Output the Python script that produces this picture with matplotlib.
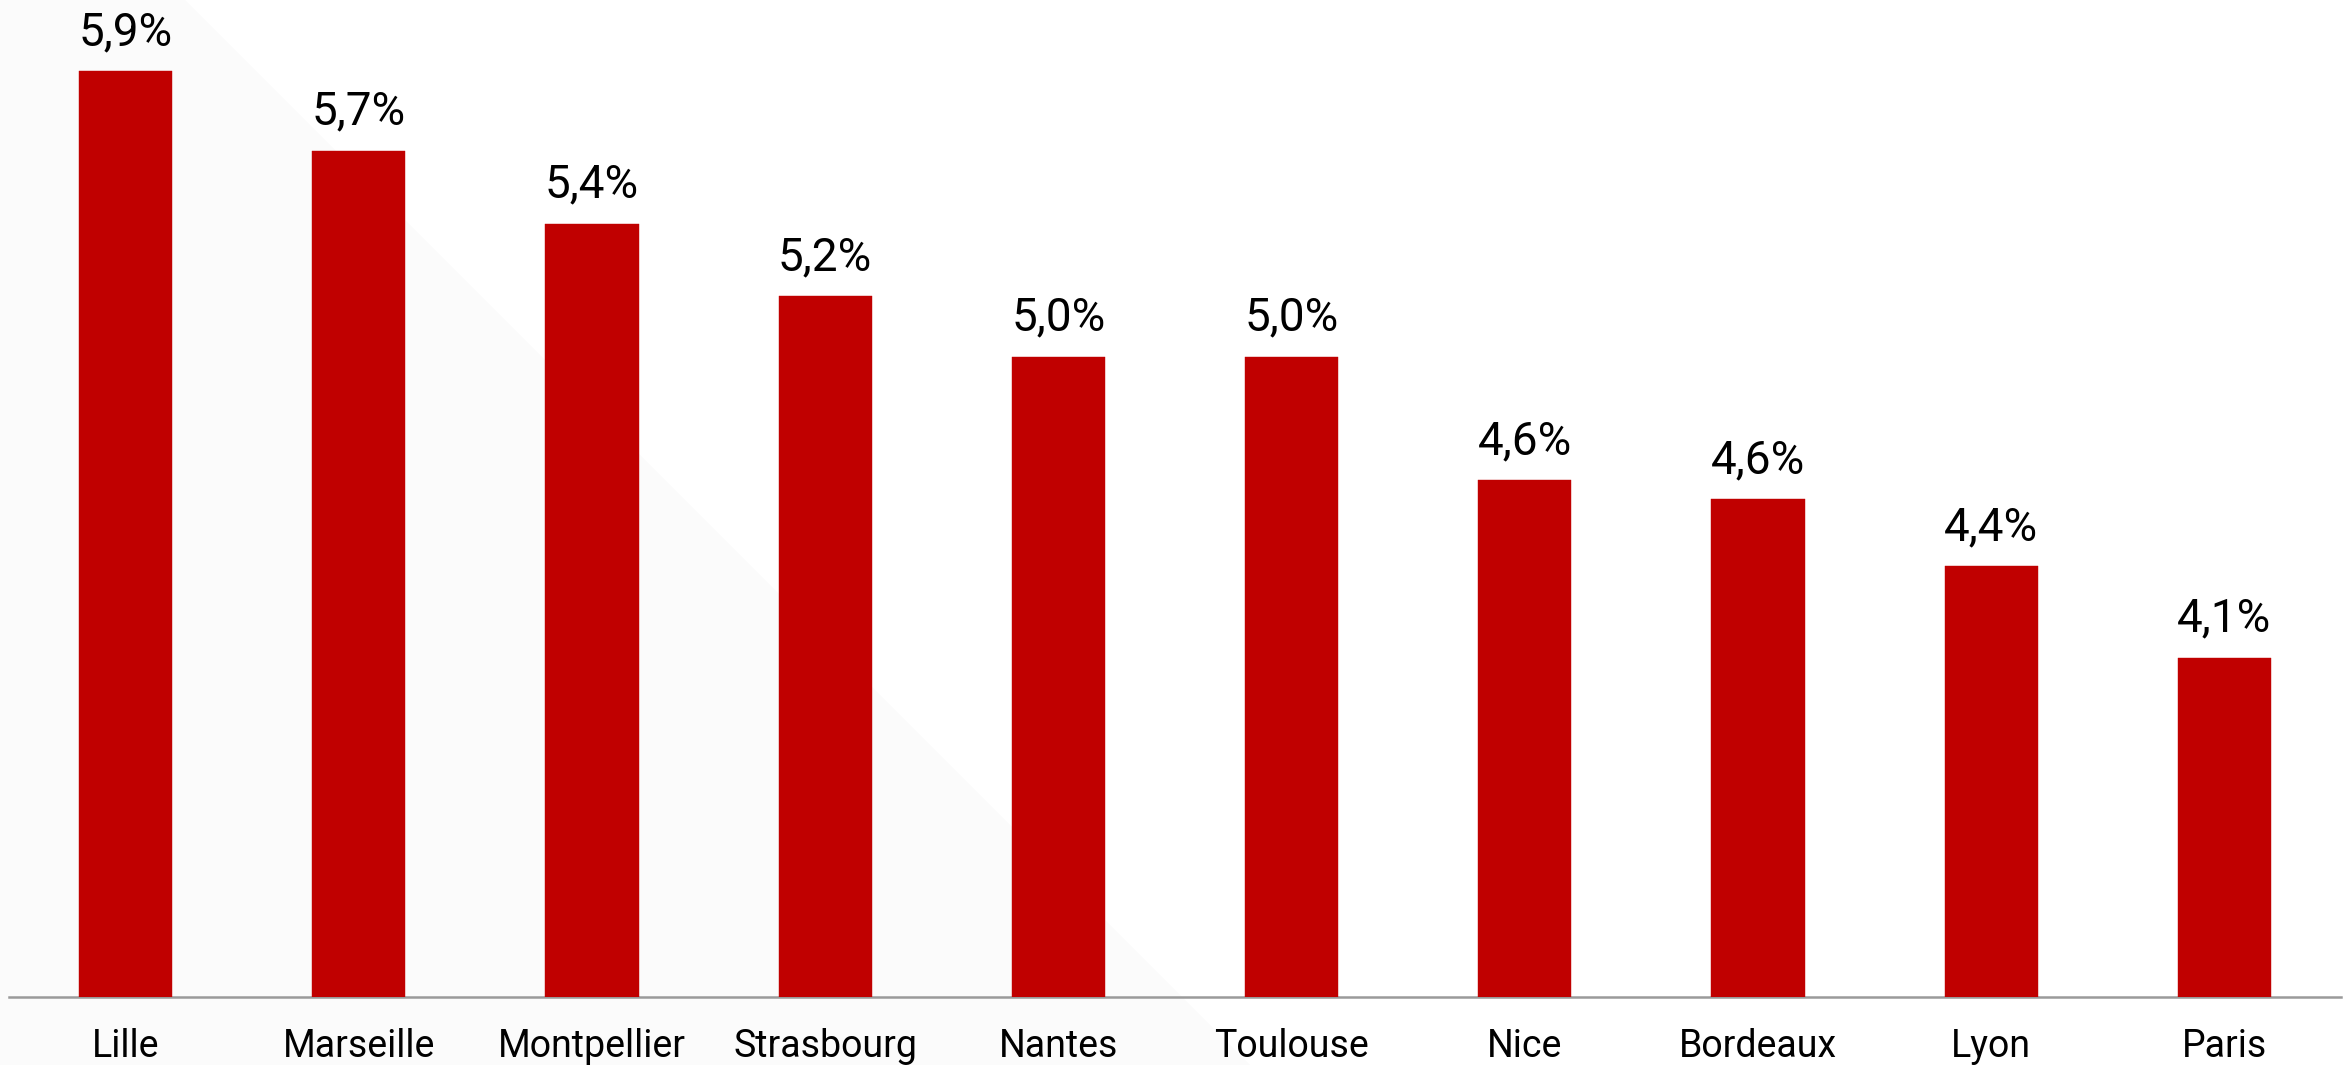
import matplotlib
matplotlib.use("Agg")
import matplotlib.pyplot as plt
from matplotlib.patches import Polygon
from matplotlib import transforms

plt.rcParams["font.family"] = ["Roboto", "DejaVu Sans"]

# Data
cities = ["Lille", "Marseille", "Montpellier", "Strasbourg", "Nantes",
          "Toulouse", "Nice", "Bordeaux", "Lyon", "Paris"]
rates = [5.92, 5.67, 5.44, 5.21, 5.02, 5.02, 4.63, 4.57, 4.36, 4.07]

W, H, DPI = 2351, 1065, 100
fig = plt.figure(figsize=(W / DPI, H / DPI), dpi=DPI, facecolor="white")

# Decorative light diagonal panel in the background
bg = Polygon([(0, 1), (185 / W, 1), (1250 / W, 0), (0, 0)],
             closed=True, transform=fig.transFigure,
             facecolor="#fbfbfb", edgecolor="none", zorder=0)
fig.patches.append(bg)

ax = fig.add_axes([9 / W, (H - 997) / H, 2332 / W, 997 / H])
ax.set_zorder(2)
ax.patch.set_alpha(0)

ymin = 3.0
px_per_unit = 317.0
ax.set_ylim(ymin, ymin + 997 / px_per_unit)
ax.set_xlim(-0.5, len(cities) - 0.5)

x = range(len(cities))
ax.bar(x, rates, width=0.4, color="#c00000", edgecolor="#c00000",
       linewidth=0.3, zorder=3)

for s in ["top", "right", "left"]:
    ax.spines[s].set_visible(False)
ax.spines["bottom"].set_color("#9a9a9a")
ax.spines["bottom"].set_linewidth(1.8)
ax.spines["bottom"].set_zorder(2)

ax.set_xticks([])
ax.set_yticks([])

# Value labels above bars
for i, v in enumerate(rates):
    ax.annotate(f"{v:.1f}".replace(".", ",") + "%", (i, v),
                xytext=(0, 18.7), textcoords="offset points",
                ha="center", va="baseline", fontsize=33, color="black",
                annotation_clip=False)

# Category labels below the axis
trans = transforms.blended_transform_factory(ax.transData, ax.transAxes)
for i, name in enumerate(cities):
    ax.annotate(name, (i, 0), xycoords=trans,
                xytext=(0, -43), textcoords="offset points",
                ha="center", va="baseline", fontsize=27, color="black",
                annotation_clip=False)

fig.savefig("out.png", dpi=DPI, facecolor="white")
